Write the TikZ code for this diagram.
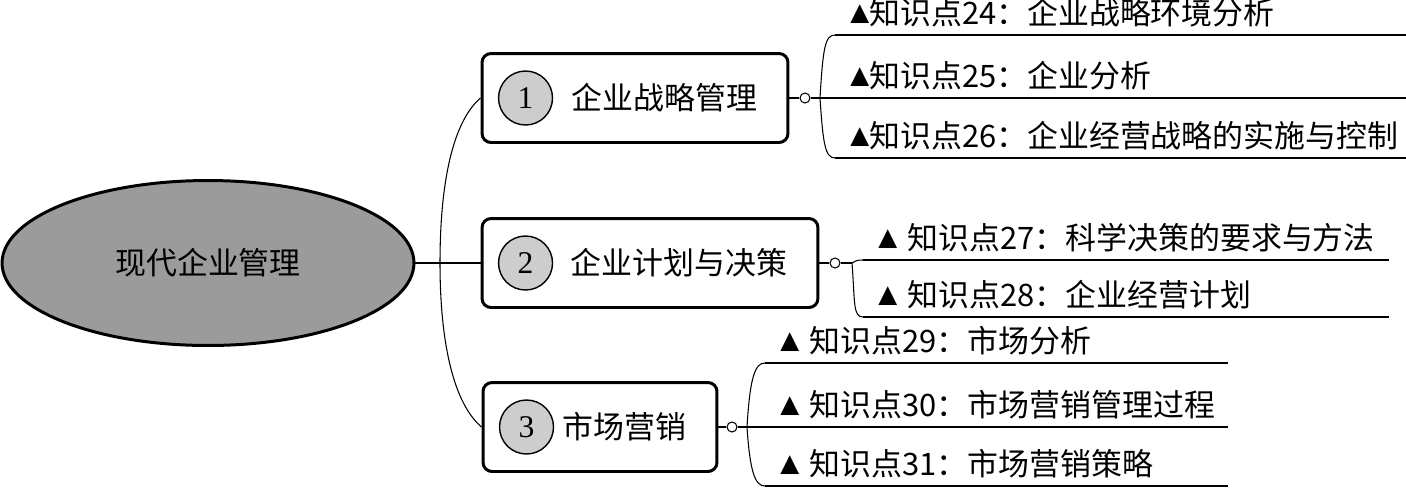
\documentclass[tikz,border=0pt]{standalone}
\usepackage{fontspec}
\setmainfont{Liberation Serif}
\newfontfamily\cjk{Noto Sans CJK SC}
\newfontfamily\symb{DejaVu Sans}
\usepackage{tikz}
\usetikzlibrary{shapes.geometric}
\usepackage{xcolor}
\definecolor{rootgray}{HTML}{9B9B9B}
\definecolor{numgray}{HTML}{CDCDCD}
\newcommand{\tri}{\raisebox{2.5pt}{\symb\fontsize{14pt}{14pt}\selectfont ▲}}

\begin{document}
\begin{tikzpicture}[x=0.02cm, y=-0.02cm,
    root/.style={ellipse, draw, line width=1.7pt, fill=rootgray, minimum width=8.24cm, minimum height=3.3cm, inner sep=0pt, font=\cjk\fontsize{17.6pt}{21pt}\selectfont},
    topic/.style={draw, line width=1.7pt, rounded corners=0.18cm, minimum height=1.78cm, inner xsep=0.62cm, align=right, text width=#1, font=\cjk\fontsize{17.6pt}{21pt}\selectfont},
    num/.style={circle, draw, line width=0.8pt, fill=numgray, minimum size=1.08cm, inner sep=0pt, font=\fontsize{18pt}{21pt}\selectfont},
    dot/.style={circle, draw, line width=0.6pt, fill=white, minimum size=0.2cm, inner sep=0pt},
    leaf/.style={anchor=south west, align=left, inner xsep=0.3cm, inner ysep=0.15cm, text width=#1, text depth=0.15em, font=\cjk\fontsize{17.6pt}{21pt}\selectfont, append after command={(\tikzlastnode.south west) edge[under] (\tikzlastnode.south east)}},
    under/.style={line width=1.1pt},
    link/.style={line width=0.6pt},
]
\useasboundingbox (0,0) rectangle (1406,488);

\node[root] (root) at (208,263) {现代企业管理};
\coordinate (sp) at (440,263);

\node[topic=4.88cm] (b1) at (635,98) {企业战略管理};
\node[topic=5.48cm] (b2) at (650,263) {企业计划与决策};
\node[topic=3.44cm] (b3) at (600,427) {市场营销};
\node[num] (n1) at ([xshift=0.9cm]b1.west) {1};
\node[num] (n2) at ([xshift=0.9cm]b2.west) {2};
\node[num] (n3) at ([xshift=0.9cm]b3.west) {3};

\node[dot] (dot1) at (805,98) {};
\node[dot] (dot2) at (835,263) {};
\node[dot] (dot3) at (732,427) {};
\coordinate (j1) at (820,98);
\coordinate (j2) at (852,263);
\coordinate (j3) at (747,427);

\node[leaf=10.82cm] (k24) at (835,35) {\tri 知识点24：企业战略环境分析};
\node[leaf=10.82cm] (k25) at (835,98) {\tri 知识点25：企业分析};
\node[leaf=10.82cm] (k26) at (835,158) {\tri 知识点26：企业经营战略的实施与控制};
\node[leaf=9.9cm] (k27) at (863,260) {\tri~知识点27：科学决策的要求与方法};
\node[leaf=9.9cm] (k28) at (863,317) {\tri~知识点28：企业经营计划};
\node[leaf=8.64cm] (k29) at (765,363) {\tri~知识点29：市场分析};
\node[leaf=8.64cm] (k30) at (765,427) {\tri~知识点30：市场营销管理过程};
\node[leaf=8.64cm] (k31) at (765,486) {\tri~知识点31：市场营销策略};

\draw[link] (root) -- (b2);
\draw[link] (sp) .. controls +(0,-83) and +(-27,23) .. (b1.west);
\draw[link] (sp) .. controls +(0,83) and +(-27,-23) .. (b3.west);

\draw[link] (b1) -- (dot1);
\draw[link] (dot1) -- (k25.south west);
\draw[link] (j1) .. controls +(3,-50) and +(-10,0) .. (k24.south west);
\draw[link] (j1) .. controls +(3,45) and +(-10,0) .. (k26.south west);

\draw[link] (b2) -- (dot2);
\draw[link] (dot2) -- (j2);
\draw[link] (j2) .. controls +(5,-3) and +(-5,0) .. (k27.south west);
\draw[link] (j2) .. controls +(3,40) and +(-10,0) .. (k28.south west);

\draw[link] (b3) -- (dot3);
\draw[link] (dot3) -- (k30.south west);
\draw[link] (j3) .. controls +(3,-50) and +(-10,0) .. (k29.south west);
\draw[link] (j3) .. controls +(3,45) and +(-10,0) .. (k31.south west);

\end{tikzpicture}
\end{document}
